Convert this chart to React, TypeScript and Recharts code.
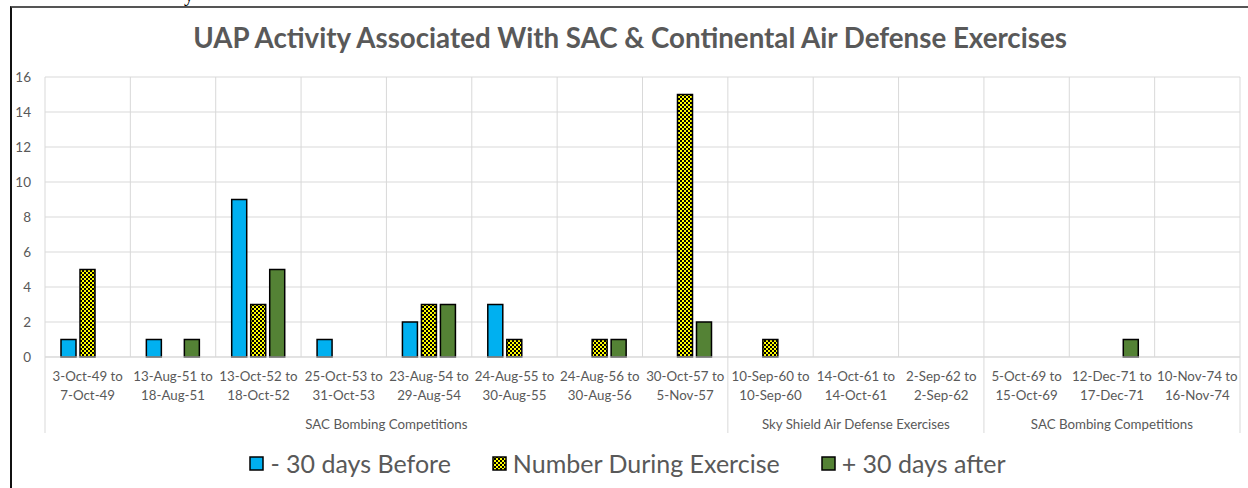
import React from 'react';
import { BarChart, Bar, XAxis, YAxis, CartesianGrid, Legend } from 'recharts';

const startDates = ["3-Oct-49", "13-Aug-51", "13-Oct-52", "25-Oct-53", "23-Aug-54", "24-Aug-55", "24-Aug-56", "30-Oct-57", "10-Sep-60", "14-Oct-61", "2-Sep-62", "5-Oct-69", "12-Dec-71", "10-Nov-74"];
const endDates = ["7-Oct-49", "18-Aug-51", "18-Oct-52", "31-Oct-53", "29-Aug-54", "30-Aug-55", "30-Aug-56", "5-Nov-57", "10-Sep-60", "14-Oct-61", "2-Sep-62", "15-Oct-69", "17-Dec-71", "16-Nov-74"];
const groupNames = ["SAC Bombing Competitions", "Sky Shield Air Defense Exercises", "SAC Bombing Competitions"];
const groupSizes = [8, 3, 3];
const before = [1, 1, 9, 1, 2, 3, 0, 0, 0, 0, 0, 0, 0, 0];
const during = [5, 0, 3, 0, 3, 1, 1, 15, 1, 0, 0, 0, 0, 0];
const after = [0, 1, 5, 0, 3, 0, 1, 2, 0, 0, 0, 0, 1, 0];
const yTicks = [0, 2, 4, 6, 8, 10, 12, 14, 16];
const seriesNames = ["- 30 days Before", "Number During Exercise", "+ 30 days after"];
const title = "UAP Activity Associated With SAC & Continental Air Defense Exercises";

const data = startDates.map((s, i) => ({
  period: s + " to " + endDates[i],
  idx: i,
  before: before[i],
  during: during[i],
  after: after[i],
}));

const groupStarts: number[] = [];
groupSizes.reduce((acc, n) => { groupStarts.push(acc); return acc + n; }, 0);

const FONT = 'Lato, "Open Sans", sans-serif';
const TEXT = '#595959';
const GRID = '#D9D9D9';
const BLUE = '#00B0F0';
const GREEN = '#548235';
const CHECK = 'url(#checker)';

function XTick(props: any) {
  const { x, y, payload } = props;
  const i: number = payload.index;
  const half: number = payload.offset || (1195 / 14) / 2;
  const bw = half * 2;
  const gi = groupStarts.indexOf(i);
  return (
    <g>
      <text x={x} y={y + 24} textAnchor="middle" fill={TEXT} fontFamily={FONT} fontSize={13.3}>{startDates[i] + ' to'}</text>
      <text x={x} y={y + 43} textAnchor="middle" fill={TEXT} fontFamily={FONT} fontSize={13.3}>{endDates[i]}</text>
      {gi >= 0 && (
        <g>
          <line x1={x - half} x2={x - half} y1={y} y2={y + 76} stroke={GRID} strokeWidth={1} />
          <text x={x - half + (groupSizes[gi] * bw) / 2} y={y + 72} textAnchor="middle" fill={TEXT} fontFamily={FONT} fontSize={13.3}>{groupNames[gi]}</text>
        </g>
      )}
      {i === startDates.length - 1 && (
        <line x1={x + half} x2={x + half} y1={y} y2={y + 76} stroke={GRID} strokeWidth={1} />
      )}
    </g>
  );
}

function LegendIcon({ fill }: { fill: string }) {
  return (
    <svg width={15} height={15} style={{ display: 'block' }}>
      <rect x={1} y={1} width={13} height={13} fill={fill} stroke="#000" strokeWidth={1.5} />
    </svg>
  );
}

function LegendContent() {
  const fills = [BLUE, CHECK, GREEN];
  return (
    <div style={{ height: 55, boxSizing: 'border-box', paddingTop: 5, display: 'flex', justifyContent: 'center', alignItems: 'center', gap: 41, fontFamily: FONT, fontSize: 25, color: TEXT }}>
      {seriesNames.map((n, k) => (
        <div key={k} style={{ display: 'flex', alignItems: 'center', gap: 6 }}>
          <LegendIcon fill={fills[k]} />
          <span>{n}</span>
        </div>
      ))}
    </div>
  );
}

export default function App() {
  return (
    <div style={{ position: 'absolute', left: 0, top: 0, width: 1248, height: 488, overflow: 'hidden', background: '#fff' }}>
      <svg width={0} height={0} style={{ position: 'absolute' }}>
        <defs>
          <pattern id="checker" patternUnits="userSpaceOnUse" width={4} height={4}>
            <rect x={0} y={0} width={4} height={4} fill="#FFFF00" />
            <rect x={0} y={0} width={2} height={2} fill="#000" />
            <rect x={2} y={2} width={2} height={2} fill="#000" />
          </pattern>
        </defs>
      </svg>
      <div style={{ position: 'absolute', left: 184, top: -17, fontFamily: '"Liberation Serif", serif', fontSize: 20, color: '#000' }}>y</div>
      <div style={{ position: 'absolute', left: 10, top: 6, width: 1240, height: 490, borderLeft: '2px solid #111', borderTop: '2px solid #555' }} />
      <div style={{ position: 'absolute', left: 12, top: 21, width: 1236, textAlign: 'center', fontFamily: FONT, fontWeight: 700, fontSize: 27.7, color: TEXT, whiteSpace: 'nowrap' }}>{title}</div>
      <div style={{ position: 'absolute', left: 0, top: 0 }}>
        <BarChart width={1248} height={488} data={data} margin={{ top: 77, right: 8, left: 15, bottom: 0 }} barSize={15} barGap={4}>
          <CartesianGrid
            stroke={GRID}
            strokeWidth={1}
            verticalCoordinatesGenerator={({ offset }: any) => Array.from({ length: 15 }, (_, k) => offset.left + (k * offset.width) / 14)}
          />
          <XAxis dataKey="period" interval={0} height={76} tickSize={0} tickMargin={0} tickLine={false} axisLine={{ stroke: GRID }} tick={<XTick />} />
          <YAxis width={30} domain={[0, 16]} ticks={yTicks} interval={0} axisLine={false} tickLine={false} tickSize={0} tickMargin={14} tick={{ fill: TEXT, fontFamily: FONT, fontSize: 13.5 }} />
          <Legend verticalAlign="bottom" content={<LegendContent />} />
          <Bar dataKey="before" name={seriesNames[0]} fill={BLUE} stroke="#000" strokeWidth={1.5} isAnimationActive={false} />
          <Bar dataKey="during" name={seriesNames[1]} fill={CHECK} stroke="#000" strokeWidth={1.5} isAnimationActive={false} />
          <Bar dataKey="after" name={seriesNames[2]} fill={GREEN} stroke="#000" strokeWidth={1.5} isAnimationActive={false} />
        </BarChart>
      </div>
    </div>
  );
}
